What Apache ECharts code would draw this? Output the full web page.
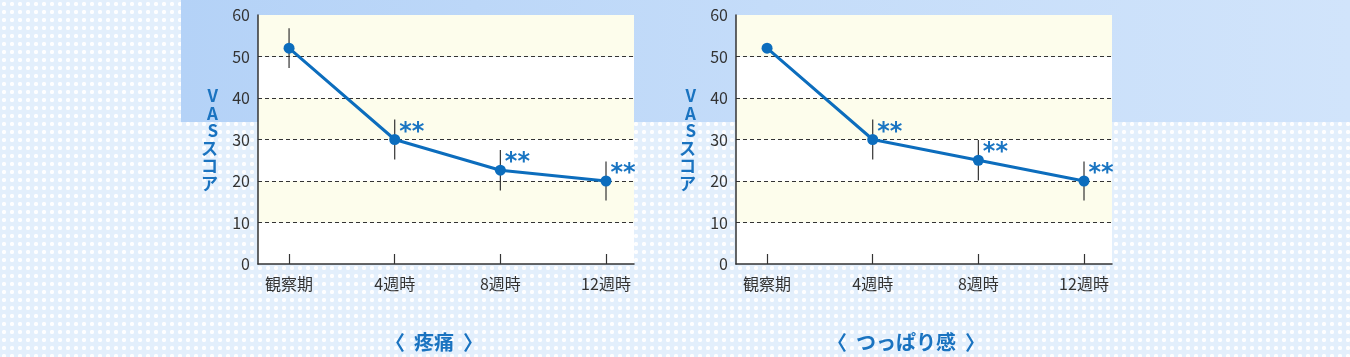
<!DOCTYPE html>
<html><head><meta charset="utf-8">
<script src="https://cdn.jsdelivr.net/npm/echarts@6/dist/echarts.min.js"></script>
<style>
html,body{margin:0;padding:0;}
body{width:1350px;height:357px;overflow:hidden;position:relative;
background-color:#e3effc;
background-image:radial-gradient(circle, rgba(255,255,255,0.95) 1.8px, rgba(255,255,255,0) 2.5px);
background-size:8px 8px;}
#band{position:absolute;left:181px;top:0;width:1169px;height:122px;background:linear-gradient(90deg,#b4d2f7 0%,#c4dcf9 50%,#d1e4fb 100%);}
#chart{position:absolute;left:0;top:0;width:1350px;height:357px;}
</style></head>
<body>
<div id="band"></div>
<div id="chart"></div>
<script>
const categories = ['観察期', '4週時', '8週時', '12週時'];
const yTicks = [0, 10, 20, 30, 40, 50, 60];
const painValues = [52, 30, 22.6, 20];
const painErrors = [4.8, 4.8, 4.9, 4.7];
const painMarks = ['', '**', '**', '**'];
const tensionValues = [52, 30, 25, 20];
const tensionErrors = [0, 4.8, 4.85, 4.7];
const tensionMarks = ['', '**', '**', '**'];
const yAxisTitle = 'VASスコア';
const panelTitles = ['〈  疼痛  〉', '〈  つっぱり感  〉'];

const JP = '"Noto Sans CJK JP", "Noto Sans", sans-serif';
const BLUE = '#0c6dbd';
const catIdx = categories.map((c, k) => k);

const panels = [
  {values: painValues, errors: painErrors, marks: painMarks, left: 258, title: panelTitles[0], tx: 434},
  {values: tensionValues, errors: tensionErrors, marks: tensionMarks, left: 736, title: panelTitles[1], tx: 906}
];

const grid = [], xAxis = [], yAxis = [], series = [], graphic = [];
panels.forEach((p, i) => {
  grid.push({left: p.left, top: 15, width: 376, height: 249});
  xAxis.push({
    type: 'value', gridIndex: i, min: -0.294, max: 3.265,
    axisLine: {show: true, onZero: false, lineStyle: {color: '#333', width: 1.5}},
    axisTick: {show: true, inside: true, length: 10, customValues: catIdx, lineStyle: {color: '#333', width: 1.2}},
    axisLabel: {customValues: catIdx, formatter: v => categories[Math.round(v)], margin: 12, fontSize: 16, color: '#333', fontFamily: JP},
    splitLine: {show: false}
  });
  yAxis.push({
    type: 'value', gridIndex: i, min: yTicks[0], max: yTicks[yTicks.length - 1], interval: yTicks[1] - yTicks[0],
    axisLine: {show: true, onZero: false, lineStyle: {color: '#333', width: 1.5}},
    axisTick: {show: false},
    axisLabel: {margin: 8, fontSize: 16, color: '#333', fontFamily: JP},
    splitLine: {show: true, showMinLine: false, showMaxLine: false, lineStyle: {type: [4, 3], color: '#333', width: 1}},
    splitArea: {show: true, areaStyle: {color: ['#ffffff', '#fdfdec']}},
    name: yAxisTitle.split('').join('\n'), nameLocation: 'middle', nameRotate: 0, nameGap: 40,
    nameTextStyle: {color: '#1a73c0', fontWeight: 'bold', fontSize: 17, lineHeight: 17.5, fontFamily: JP}
  });
  series.push({
    type: 'custom', xAxisIndex: i, yAxisIndex: i, z: 2, silent: true,
    data: p.values.map((v, k) => [k, v - p.errors[k], v + p.errors[k]]),
    encode: {x: 0, y: [1, 2]},
    renderItem: (params, api) => {
      const lo = api.coord([api.value(0), api.value(1)]);
      const hi = api.coord([api.value(0), api.value(2)]);
      return {type: 'line', shape: {x1: lo[0], y1: lo[1], x2: hi[0], y2: hi[1]}, style: {stroke: '#333', lineWidth: 1.2}};
    }
  });
  series.push({
    type: 'line', xAxisIndex: i, yAxisIndex: i, z: 3,
    data: p.values.map((v, k) => ({value: [k, v], label: {show: !!p.marks[k], formatter: p.marks[k]}})),
    symbol: 'circle', symbolSize: 11, showAllSymbol: true,
    lineStyle: {color: BLUE, width: 3}, itemStyle: {color: BLUE},
    label: {position: 'right', distance: 0, offset: [-1, -7], color: '#1a75c2', fontSize: 24, fontWeight: 'bold', fontFamily: '"DejaVu Sans", sans-serif'}
  });
  graphic.push({
    type: 'text', x: p.tx, y: 342,
    style: {text: p.title, align: 'center', verticalAlign: 'middle', fontSize: 20, fontWeight: 'bold', fontFamily: JP, fill: '#1a73c0'}
  });
});

const chart = echarts.init(document.getElementById('chart'), null, {renderer: 'canvas'});
chart.setOption({animation: false, backgroundColor: 'transparent', grid, xAxis, yAxis, series, graphic});
</script>
</body></html>
